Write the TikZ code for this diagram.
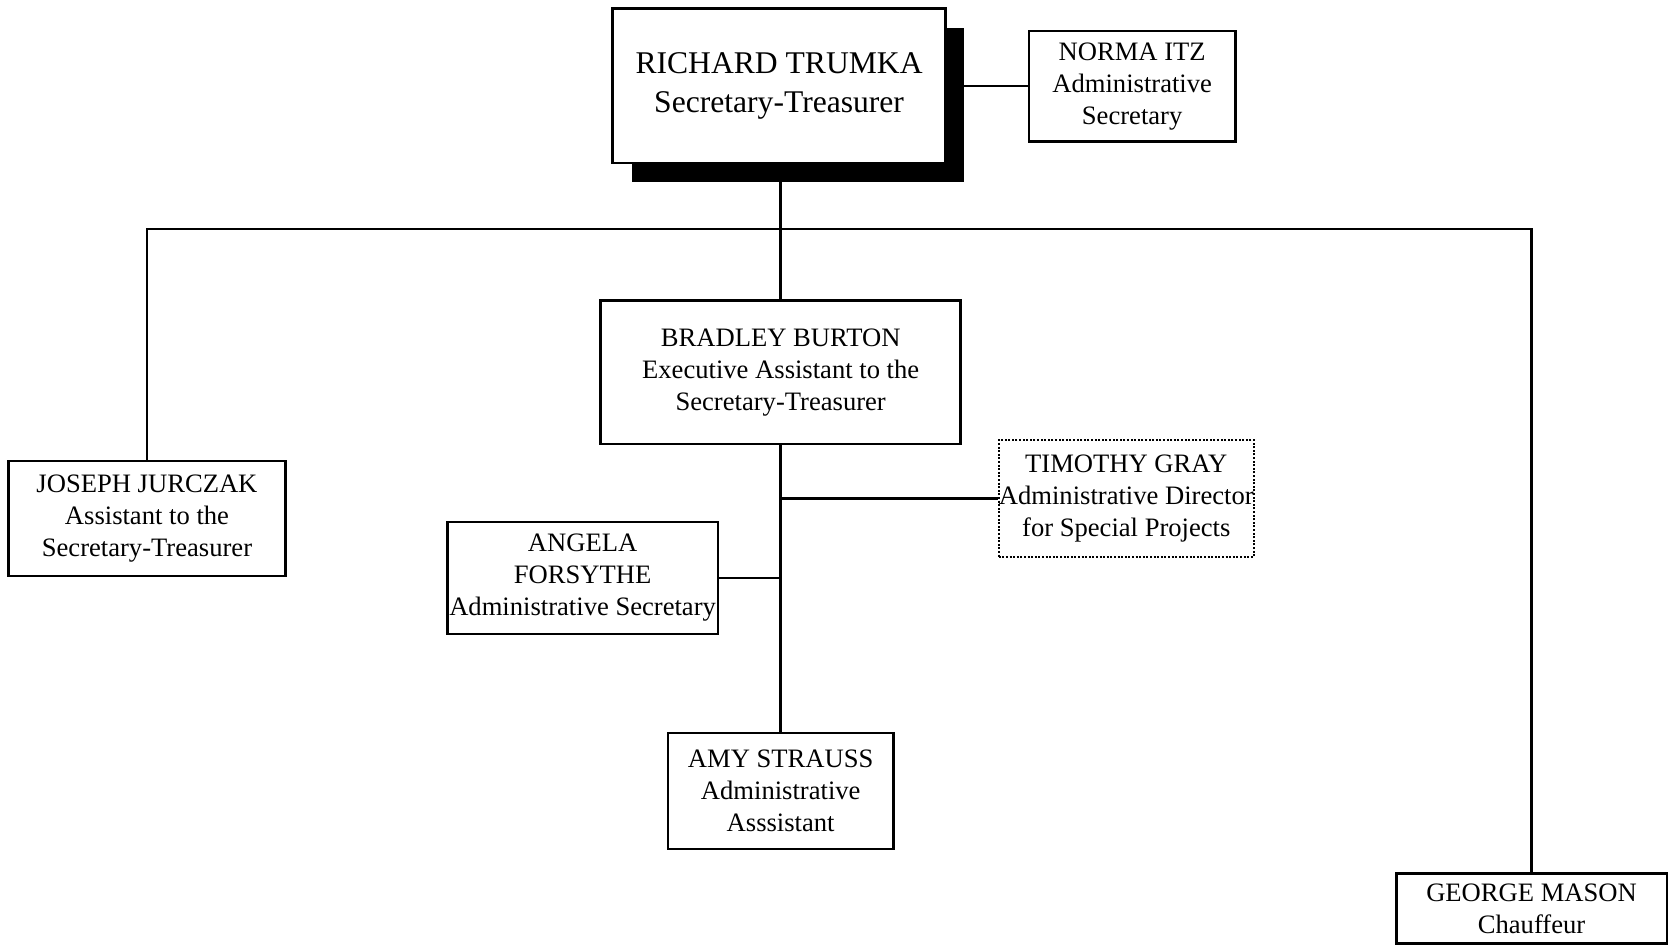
\documentclass[tikz,border=0pt]{standalone}
\usepackage{fontspec}
\setmainfont{Liberation Serif}
\begin{document}
\begin{tikzpicture}[x=0.5325pt,y=-0.5325pt,
  box/.style={draw=black,line width=1.2pt,fill=white,rectangle,inner sep=0pt,align=center,
    font=\fontsize{13.3}{16}\selectfont},
  bigbox/.style={box,line width=1.3pt,font=\fontsize{15.8}{19.5}\selectfont},
  dotbox/.style={box,line width=1.1pt,dash pattern=on 1pt off 0.8pt},
  conn/.style={line width=1.2pt}]
\useasboundingbox (0,0) rectangle (1568,890);
\fill[white] (0,0) rectangle (1568,890);
% shadow of the top box
\fill[black] (593,26) rectangle (905,171);
\node[bigbox,minimum width=313*0.5325pt,minimum height=145*0.5325pt] (trumka) at (731.5,80.5) {RICHARD TRUMKA\\Secretary-Treasurer};
\node[box,minimum width=194*0.5325pt,minimum height=104*0.5325pt] (norma) at (1063,81) {NORMA ITZ\\Administrative\\Secretary};
\node[box,minimum width=338*0.5325pt,minimum height=135*0.5325pt] (burton) at (733,349.5) {BRADLEY BURTON\\Executive Assistant to the\\Secretary-Treasurer};
\node[box,minimum width=260*0.5325pt,minimum height=108*0.5325pt] (jurczak) at (138,487) {JOSEPH JURCZAK\\Assistant to the\\Secretary-Treasurer};
\node[dotbox,minimum width=229*0.5325pt,minimum height=110*0.5325pt] (gray) at (1057.5,468) {TIMOTHY GRAY\\Administrative Director\\for Special Projects};
\node[box,minimum width=254*0.5325pt,minimum height=105*0.5325pt] (forsythe) at (547,542.5) {ANGELA\\FORSYTHE\\Administrative Secretary};
\node[box,minimum width=212*0.5325pt,minimum height=109*0.5325pt] (strauss) at (733,742.5) {AMY STRAUSS\\Administrative\\Asssistant};
\node[box,minimum width=254*0.5325pt,minimum height=66*0.5325pt] (mason) at (1438,853) {GEORGE MASON\\Chauffeur};
% free ends and bus coordinates
\coordinate (shadowR) at (905,81);
\coordinate (shadowB) at (733,171);
\coordinate (busL) at (138,215);
\coordinate (busR) at (1438,215);
% connectors
\draw[conn] (shadowR) -- (norma.west);
\draw[conn] (shadowB) -- (burton.north);
\draw[conn] (jurczak.north) -- (busL) -- (busR) -- (mason.north);
\draw[conn] (burton.south) -- (strauss.north);
\draw[conn] (gray.west) -- (gray.west -| burton.south);
\draw[conn] (forsythe.east) -- (forsythe.east -| burton.south);
\end{tikzpicture}
\end{document}
